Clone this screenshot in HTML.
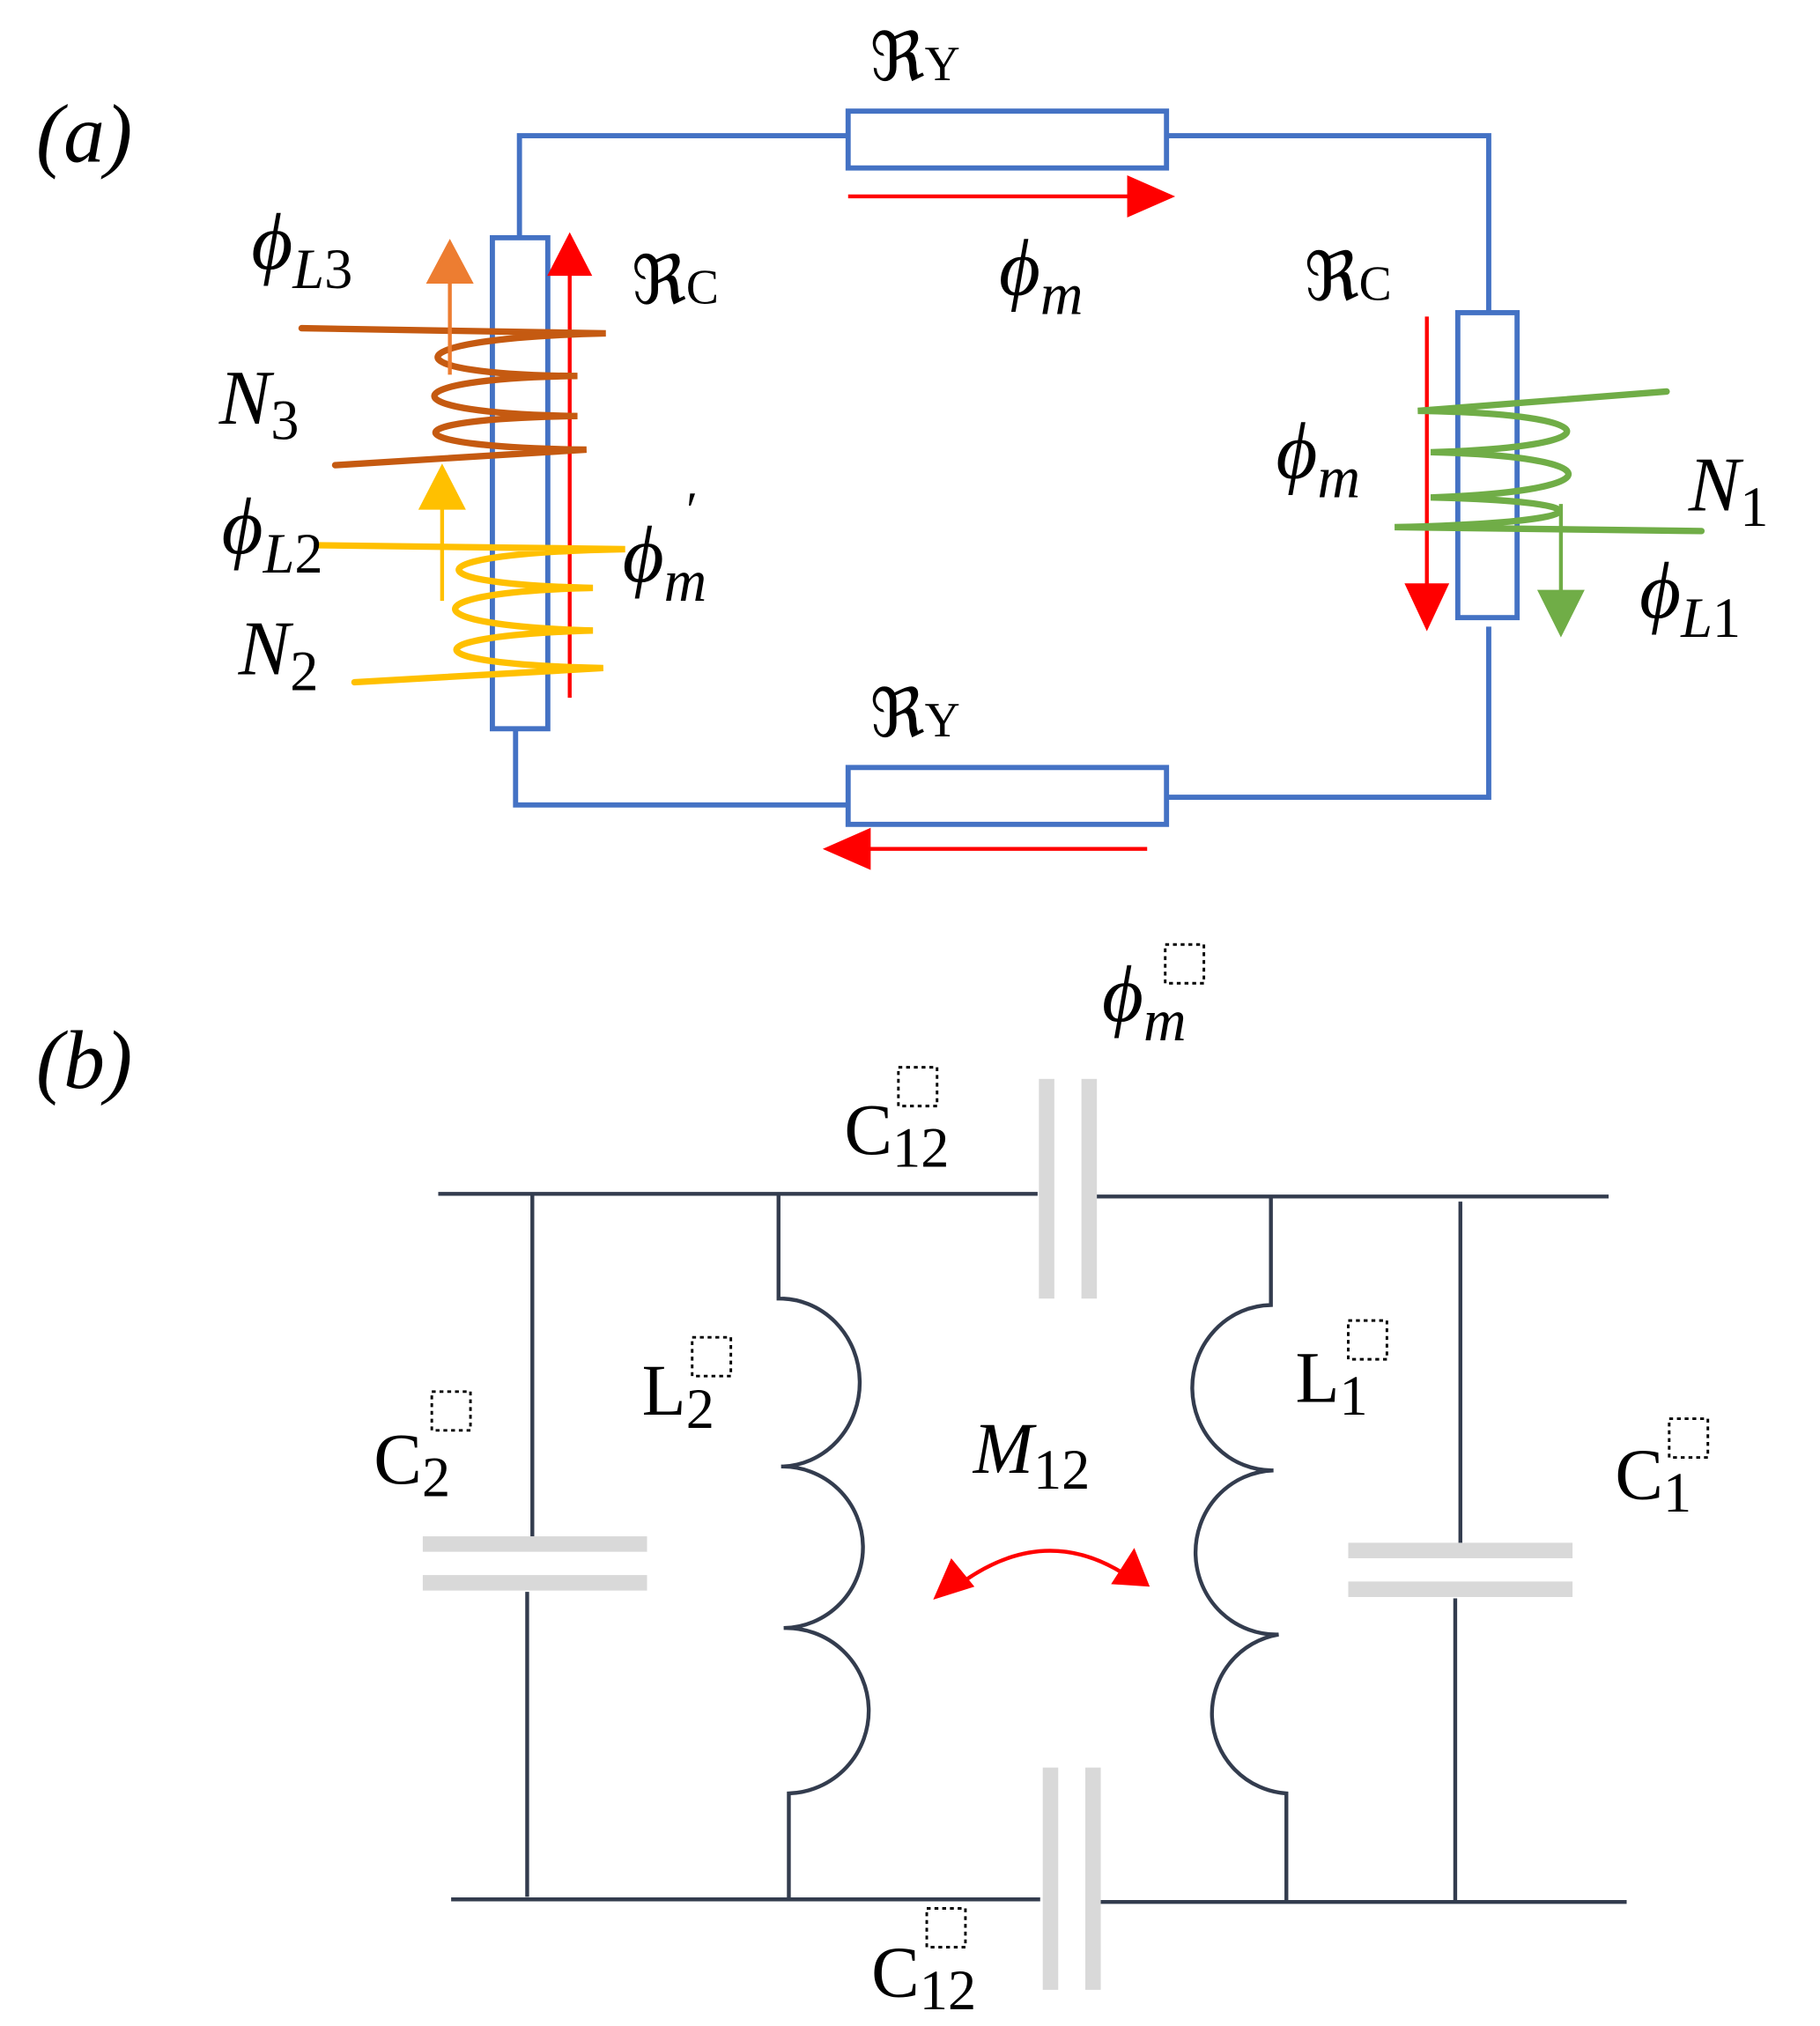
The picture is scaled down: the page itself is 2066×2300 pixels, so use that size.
<!DOCTYPE html>
<html><head><meta charset="utf-8"><style>html,body{margin:0;padding:0;background:#fff}svg{display:block}</style></head><body>
<svg width="2066" height="2300" viewBox="0 0 1412 1568" preserveAspectRatio="none" xmlns="http://www.w3.org/2000/svg">
<g font-family="Liberation Serif, DejaVu Serif, serif" fill="#000">
<text x="28" y="125" font-size="64" font-style="italic">(a)</text>
<text x="28" y="842" font-size="64" font-style="italic">(b)</text>
</g>
<g fill="none" stroke="#4472c4" stroke-width="4">
<polyline points="403,185 403,105 658,105"/>
<rect x="658" y="86" width="247" height="44"/>
<polyline points="905,105 1155,105 1155,242"/>
<rect x="1131" y="242" width="46" height="236"/>
<polyline points="1155,485 1155,617 905,617"/>
<rect x="658" y="594" width="247" height="44"/>
<polyline points="658,623 400,623 400,564"/>
<rect x="382" y="184" width="43" height="380"/>
</g>
<g stroke="#ff0000" stroke-width="3" fill="#ff0000">
<line x1="658" y1="152" x2="878" y2="152"/><path d="M876,138 L908,152 L876,166z"/>
<line x1="890" y1="657" x2="672" y2="657"/><path d="M674,643 L642,657 L674,671z"/>
<line x1="442" y1="540" x2="442" y2="210"/><path d="M427,212 L442,183 L457,212z"/>
<line x1="1107" y1="245" x2="1107" y2="455"/><path d="M1092,453 L1107,485 L1122,453z"/>
</g>
<g fill="none" stroke="#c55a11" stroke-width="5" stroke-linecap="round">
<path d="M234,254 L470,258 C300,262 300,290 448,291 C300,293 300,320 448,322 C300,324 300,346 455,348 L260,360"/>
</g>
<g stroke="#ed7d31" stroke-width="3" fill="#ed7d31"><line x1="349" y1="290" x2="349" y2="215"/><path d="M333,218 L349,188 L365,218z"/></g>
<g fill="none" stroke="#ffc000" stroke-width="5" stroke-linecap="round">
<path d="M247,422 L485,425 C320,428 315,452 460,455 C320,458 315,484 460,488 C320,492 315,514 468,517 L275,528"/>
</g>
<g stroke="#ffc000" stroke-width="3" fill="#ffc000"><line x1="343" y1="465" x2="343" y2="390"/><path d="M327,393 L343,362 L359,393z"/></g>
<g fill="none" stroke="#70ad47" stroke-width="5" stroke-linecap="round">
<path d="M1293,303 L1100,318 C1250,320 1255,346 1110,350 C1250,353 1255,380 1110,385 C1245,388 1250,404 1082,408 L1320,411"/>
</g>
<g stroke="#70ad47" stroke-width="3" fill="#70ad47"><line x1="1211" y1="390" x2="1211" y2="460"/><path d="M1195,458 L1211,490 L1227,458z"/></g>
<g font-family="Liberation Serif, DejaVu Serif, serif" fill="#000" font-size="52">
<text x="675" y="62">ℜ<tspan font-size="38">Y</tspan></text>
<text x="490" y="235">ℜ<tspan font-size="38">C</tspan></text>
<text x="1012" y="232">ℜ<tspan font-size="38">C</tspan></text>
<text x="675" y="570">ℜ<tspan font-size="38">Y</tspan></text>
<g font-style="italic">
<text x="775" y="228" font-size="62">ϕ<tspan font-size="46" dy="15">m</tspan></text>
<text x="990" y="370" font-size="62">ϕ<tspan font-size="46" dy="15">m</tspan></text>
<text x="1310" y="395" font-size="60">N<tspan font-size="44" font-style="normal" dy="12">1</tspan></text>
<text x="1272" y="478" font-size="62">ϕ<tspan font-size="44" dy="15">L</tspan><tspan font-size="44" font-style="normal">1</tspan></text>
<text x="195" y="208" font-size="62">ϕ<tspan font-size="44" dy="15">L</tspan><tspan font-size="44" font-style="normal">3</tspan></text>
<text x="170" y="328" font-size="60">N<tspan font-size="44" font-style="normal" dy="12">3</tspan></text>
<text x="172" y="428" font-size="62">ϕ<tspan font-size="44" dy="15">L</tspan><tspan font-size="44" font-style="normal">2</tspan></text>
<text x="483" y="450" font-size="62">ϕ<tspan font-size="46" dy="15">m</tspan></text>
<text x="530" y="408" font-size="40">′</text>
<text x="185" y="522" font-size="60">N<tspan font-size="44" font-style="normal" dy="12">2</tspan></text>
</g>
</g>
<g fill="none" stroke="#333c4e" stroke-width="3">
<line x1="340" y1="924" x2="805" y2="924"/>
<line x1="848" y1="926" x2="1248" y2="926"/>
<line x1="350" y1="1470" x2="807" y2="1470"/>
<line x1="850" y1="1472" x2="1262" y2="1472"/>
<line x1="413" y1="924" x2="413" y2="1190"/>
<line x1="409" y1="1232" x2="409" y2="1468"/>
<line x1="1133" y1="930" x2="1133" y2="1195"/>
<line x1="1129" y1="1237" x2="1129" y2="1472"/>
<path d="M604,924 L604,1005 A62,65 0 0 1 606,1135 A62,62 0 0 1 608,1260 A64,64 0 0 1 612,1388 L612,1470"/>
<path d="M986,926 L986,1010 A62,64 0 0 0 988,1138 A62,63 0 0 0 992,1265 A62,62 0 0 0 998,1388 L998,1472"/>
</g>
<g fill="#d9d9d9">
<rect x="806" y="835" width="12" height="170"/><rect x="839" y="835" width="12" height="170"/>
<rect x="809" y="1368" width="12" height="172"/><rect x="842" y="1368" width="12" height="172"/>
<rect x="328" y="1189" width="174" height="12"/><rect x="328" y="1219" width="174" height="12"/>
<rect x="1046" y="1194" width="174" height="12"/><rect x="1046" y="1224" width="174" height="12"/>
</g>
<path d="M742,1228 Q808,1178 872,1218" fill="none" stroke="#ff0000" stroke-width="3"/>
<path d="M724,1238 L738,1206 L756,1228z" fill="#ff0000"/>
<path d="M892,1228 L862,1226 L880,1198z" fill="#ff0000"/>
<g font-family="Liberation Serif, DejaVu Serif, serif" fill="#000" font-size="56">
<text x="855" y="790" font-style="italic" font-size="62">ϕ<tspan font-size="46" dy="15">m</tspan></text>
<text x="655" y="893">C<tspan font-size="44" dy="10">12</tspan></text>
<text x="498" y="1095">L<tspan font-size="44" dy="10">2</tspan></text>
<text x="290" y="1148">C<tspan font-size="44" dy="10">2</tspan></text>
<text x="755" y="1140" font-style="italic">M<tspan font-size="44" font-style="normal" dy="12">12</tspan></text>
<text x="1005" y="1085">L<tspan font-size="44" dy="10">1</tspan></text>
<text x="1253" y="1160">C<tspan font-size="44" dy="10">1</tspan></text>
<text x="676" y="1545">C<tspan font-size="44" dy="10">12</tspan></text>
</g>
<g fill="none" stroke="#000" stroke-width="2" stroke-dasharray="3,3">
<rect x="904" y="731" width="30" height="30"/>
<rect x="697" y="826" width="30" height="30"/>
<rect x="537" y="1035" width="30" height="30"/>
<rect x="335" y="1077" width="30" height="30"/>
<rect x="1046" y="1022" width="30" height="30"/>
<rect x="1295" y="1098" width="30" height="30"/>
<rect x="719" y="1477" width="30" height="30"/>
</g>
</svg>
</body></html>
